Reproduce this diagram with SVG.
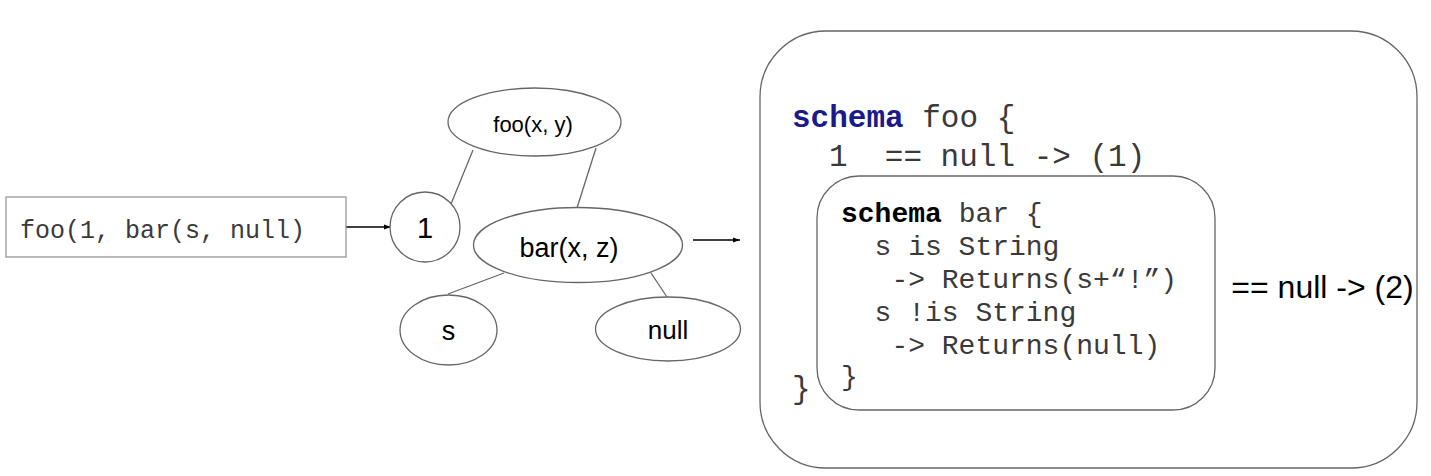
<svg xmlns="http://www.w3.org/2000/svg" width="1431" height="476" viewBox="0 0 1431 476">
<style>
.shape{fill:#fff;stroke:#666;stroke-width:1.3}
.edge{stroke:#666;stroke-width:1.3;fill:none}
.arrow{stroke:#000;stroke-width:1.3;fill:none;marker-end:url(#ah)}
.lbl{font-family:"Liberation Sans",Arial,sans-serif;fill:#000;text-anchor:middle}
.code{font-family:"Liberation Mono","Courier New",monospace;fill:#3a3a3a;white-space:pre}
.kw{font-weight:bold}
</style>
<defs>
<marker id="ah" viewBox="0 0 10 10" refX="10" refY="5" markerWidth="7" markerHeight="7" orient="auto" markerUnits="userSpaceOnUse">
<path d="M0,1.5 L10,5 L0,8.5 z" fill="#000"/>
</marker>
</defs>
<rect width="1431" height="476" fill="#fff"/>
<g id="connectors">
<line class="arrow" x1="346" y1="227" x2="391" y2="227"/>
<line class="edge" x1="473" y1="150" x2="451" y2="204"/>
<line class="edge" x1="596" y1="148" x2="577" y2="208"/>
<line class="edge" x1="504" y1="273" x2="448" y2="294"/>
<line class="edge" x1="651" y1="273" x2="667" y2="297"/>
<line class="arrow" x1="693" y1="240" x2="740" y2="240"/>
</g>
<g id="input">
<rect x="6" y="197" width="340" height="60" fill="#fff" stroke="#999" stroke-width="1.3"/>
<text class="code" x="20" y="238" font-size="25">foo(1, bar(s, null)</text>
</g>
<g id="node-1">
<circle class="shape" cx="425" cy="227" r="35"/>
<text class="lbl" x="425" y="238" font-size="29">1</text>
</g>
<g id="node-foo">
<ellipse class="shape" cx="534.5" cy="122" rx="86.5" ry="34"/>
<text class="lbl" x="533" y="132" font-size="22">foo(x, y)</text>
</g>
<g id="node-bar">
<ellipse class="shape" cx="578" cy="245" rx="104.5" ry="37.5"/>
<text class="lbl" x="569" y="257" font-size="27">bar(x, z)</text>
</g>
<g id="node-s">
<ellipse class="shape" cx="448.5" cy="330" rx="48.5" ry="35"/>
<text class="lbl" x="448.5" y="340" font-size="27">s</text>
</g>
<g id="node-null">
<ellipse class="shape" cx="668" cy="329" rx="72.5" ry="32"/>
<text class="lbl" x="668" y="339" font-size="26">null</text>
</g>
<g id="schema-foo">
<rect class="shape" x="760" y="31" width="657" height="437" rx="66" ry="66"/>
<text class="code" x="792" y="127" font-size="31"><tspan class="kw" fill="#1a1a8c">schema</tspan> foo {</text>
<text class="code" x="829" y="166" font-size="31">1  == null -&gt; (1)</text>
<text class="code" x="792" y="398" font-size="31">}</text>
</g>
<g id="schema-bar">
<rect class="shape" x="817" y="176" width="398" height="234" rx="42" ry="42"/>
<text class="code" x="841" y="222" font-size="28"><tspan class="kw" fill="#000">schema</tspan> bar {</text>
<text class="code" x="874.6" y="255" font-size="28">s is String</text>
<text class="code" x="891.4" y="288" font-size="28">-&gt; Returns(s+“!”)</text>
<text class="code" x="874.6" y="321" font-size="28">s !is String</text>
<text class="code" x="891.4" y="354" font-size="28">-&gt; Returns(null)</text>
<text class="code" x="841" y="385" font-size="28">}</text>
</g>
<g id="result-label">
<text class="lbl" x="1322.5" y="298" font-size="32">== null -&gt; (2)</text>
</g>
</svg>
